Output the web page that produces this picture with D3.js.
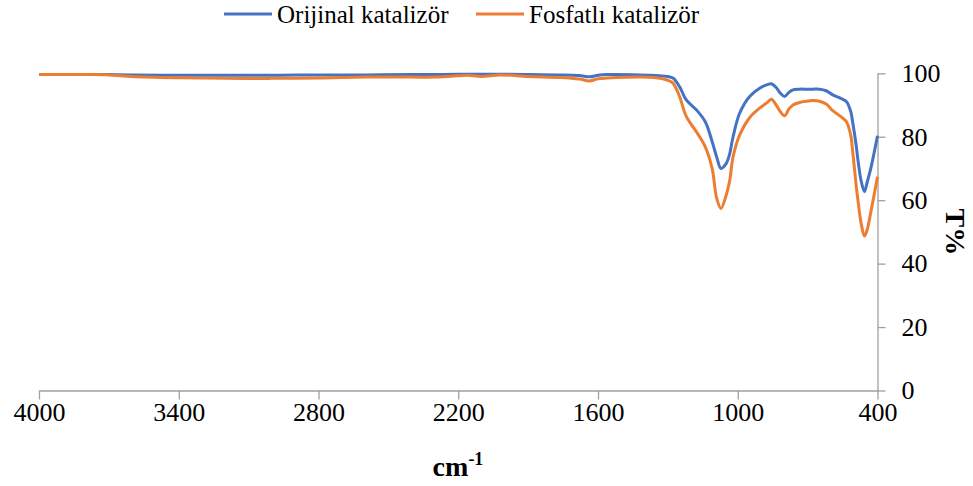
<!DOCTYPE HTML>
<html>
<head>
	<meta charset="utf-8">
	<style>
		body { margin: 0; background: white; }
		.line {
			fill: none;
			stroke-width: 3px;
			stroke-linejoin: round;
		}
		text { font-family: "Liberation Serif", "Times New Roman", serif; fill: black; }
		.axis path, .axis line { stroke: #a0a0a0; stroke-width: 1.3px; }
		.axis text { font-size: 26px; }
	</style>
	<script src="https://cdn.jsdelivr.net/npm/d3@7"></script>
</head>
<body>
<script>
	// wavenumber (cm-1) and transmittance (%T)
	var wavenumbers = [4000, 3800, 3700, 3600, 3400, 3200, 3000, 2800, 2600, 2400, 2300, 2200, 2160, 2100, 2020, 1900, 1760, 1680, 1636, 1600, 1560, 1420, 1350, 1300, 1278, 1250, 1221, 1178, 1140, 1110, 1090, 1072, 1050, 1035, 1020, 992, 949, 906, 870, 856, 835, 818, 799, 780, 763, 735, 706, 678, 649, 620, 592, 560, 534, 515, 506, 491, 484, 470, 456, 445, 427, 400];
	var orijinal = [99.6, 99.6, 99.6, 99.5, 99.4, 99.4, 99.4, 99.5, 99.5, 99.6, 99.6, 99.7, 99.7, 99.7, 99.7, 99.6, 99.5, 99.3, 98.9, 99.4, 99.6, 99.5, 99.3, 99.0, 98.5, 95.8, 91.6, 88.5, 84.8, 78.5, 73.5, 70.0, 71.5, 74.5, 80.0, 87.4, 92.7, 95.3, 96.5, 96.7, 95.5, 93.8, 92.7, 94.0, 94.8, 95.0, 95.0, 95.0, 95.0, 94.5, 93.2, 92.2, 91.1, 88.0, 84.3, 77.0, 72.7, 66.0, 62.7, 65.5, 70.6, 80.3];
	var fosfatli = [99.6, 99.6, 99.5, 99.0, 98.6, 98.4, 98.4, 98.5, 98.8, 98.8, 98.8, 99.2, 99.4, 99.0, 99.5, 99.0, 98.7, 98.2, 97.6, 98.3, 98.5, 98.8, 98.6, 97.8, 96.9, 92.7, 86.4, 81.6, 76.9, 70.0, 60.5, 57.4, 61.5, 66.0, 73.7, 80.5, 86.0, 89.0, 91.0, 91.8, 90.0, 88.0, 86.6, 88.8, 90.0, 90.8, 91.2, 91.4, 91.2, 90.3, 88.2, 86.5, 84.8, 80.5, 75.0, 64.2, 60.0, 52.6, 48.7, 50.5, 56.9, 67.4];
	var xTicks = [4000, 3400, 2800, 2200, 1600, 1000, 400];
	var yTicks = [0, 20, 40, 60, 80, 100];
	var seriesNames = ["Orijinal katalizör", "Fosfatlı katalizör"];
	var seriesColors = ["#4472C4", "#ED7D31"];

	var width = 973, height = 486;
	var svg = d3.select("body").append("svg")
		.attr("width", width)
		.attr("height", height);

	var x = d3.scaleLinear().domain([4000, 400]).range([39, 877.5]);
	var y = d3.scaleLinear().domain([0, 100]).range([390.5, 73.3]);

	svg.append("g")
		.attr("class", "axis")
		.attr("font-family", "Liberation Serif")
		.attr("transform", "translate(0," + y(0) + ")")
		.call(d3.axisBottom(x).tickValues(xTicks).tickSize(9).tickSizeOuter(0).tickPadding(3).tickFormat(d3.format("d")));

	svg.append("g")
		.attr("class", "axis")
		.attr("font-family", "Liberation Serif")
		.attr("transform", "translate(" + x(400) + ",0)")
		.call(d3.axisRight(y).tickValues(yTicks).tickSize(8).tickSizeOuter(0).tickPadding(16));

	var series = [orijinal, fosfatli];
	var line = d3.line()
		.x(function(d, i) { return x(wavenumbers[i]); })
		.y(function(d) { return y(d); })
		.curve(d3.curveCatmullRom);

	svg.selectAll(".line")
		.data(series)
		.enter().append("path")
		.attr("class", "line")
		.style("stroke", function(d, i) { return seriesColors[i]; })
		.attr("d", line);

	// legend
	var legendX = [224, 476];
	var legend = svg.selectAll(".legend")
		.data(seriesNames)
		.enter().append("g")
		.attr("class", "legend")
		.attr("transform", function(d, i) { return "translate(" + legendX[i] + ",14)"; });
	legend.append("line")
		.attr("x1", 0).attr("x2", 48)
		.attr("stroke-width", 3)
		.attr("stroke", function(d, i) { return seriesColors[i]; });
	legend.append("text")
		.attr("x", 53)
		.attr("dy", "0.34em")
		.style("font-size", "25px")
		.text(function(d) { return d; });

	// axis titles
	var xTitle = svg.append("text")
		.attr("x", 458)
		.attr("y", 476)
		.attr("text-anchor", "middle")
		.style("font-size", "28px")
		.style("font-weight", "bold");
	xTitle.append("tspan").text("cm");
	xTitle.append("tspan").attr("dy", -11).style("font-size", "18px").text("-1");

	svg.append("text")
		.attr("transform", "translate(946," + y(50) + ") rotate(90)")
		.attr("text-anchor", "middle")
		.style("font-size", "28px")
		.style("font-weight", "bold")
		.text("T%");
</script>
</body>
</html>
